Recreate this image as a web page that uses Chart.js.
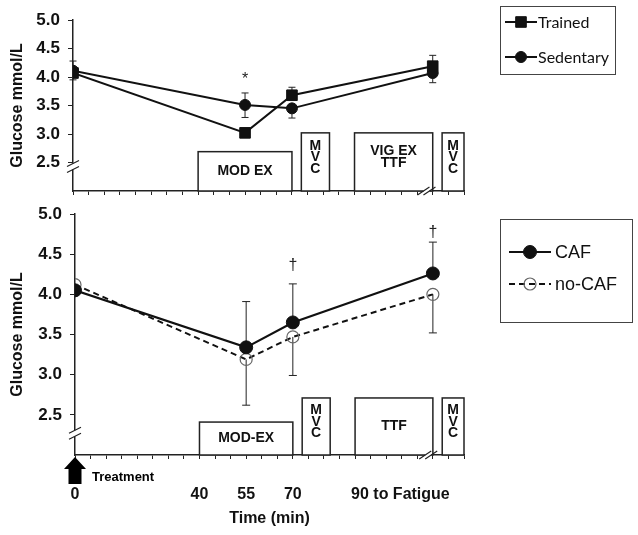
<!DOCTYPE html>
<html>
<head>
<meta charset="utf-8">
<script src="https://cdn.jsdelivr.net/npm/chart.js@4"></script>
<style>
  body { margin: 0; background: #fff; }
  #wrap { position: relative; width: 638px; height: 535px; }
  #topChart { position: absolute; left: 0; top: 0; }
  #bottomChart { position: absolute; left: 0; top: 200px; }
</style>
</head>
<body>
<div id="wrap">
  <canvas id="topChart" width="638" height="200"></canvas>
  <canvas id="bottomChart" width="638" height="335"></canvas>
</div>
<script>
// sample times (min)
const times = [0, 55, 70, 115];

// top panel: trained vs sedentary
const trainedGlucose = [4.07, 3.02, 3.68, 4.19];
const sedentaryGlucose = [4.11, 3.51, 3.45, 4.07];
const trainedHigh = [null, null, 3.82, 4.38];
const trainedLow = [3.95, null, null, null];
const sedentaryHigh = [4.28, 3.72, null, null];
const sedentaryLow = [null, 3.29, 3.28, 3.90];

// bottom panel: caffeine vs no caffeine
const cafGlucose = [4.05, 3.34, 3.65, 4.26];
const noCafGlucose = [4.12, 3.19, 3.47, 4.00];
const cafHigh = [null, 3.91, 4.13, 4.65];
const noCafLow = [null, 2.62, 2.99, 3.52];

const yTicks = [2.0, 2.5, 3.0, 3.5, 4.0, 4.5, 5.0];
const xTickValues = [0, 40, 55, 70, 90];
const xTickLabels = ['0', '40', '55', '70', '90 to Fatigue'];

// protocol phases
const phaseStart = [40, 73, 90, 118];
const phaseEnd = [70, 82, 115, 125];
const phaseNamesTop = ['MOD EX', 'MVC', 'VIG EX\nTTF', 'MVC'];
const phaseNamesBottom = ['MOD-EX', 'MVC', 'TTF', 'MVC'];

// significance marks
const topSigTimes = [55];
const topSigLevels = [3.96];
const topSigText = ['*'];
const bottomSigTimes = [70, 115];
const bottomSigLevels = [4.36, 4.77];
const bottomSigText = ['\u2020', '\u2020'];

const axisColor = '#222';
const boldFont = '"Liberation Sans", Arial, sans-serif';

const pts = vals => times.map((t, i) => ({ x: t, y: vals[i] }));

function drawMarker(ctx, style, x, y, r, fill, stroke, bw) {
  ctx.save();
  ctx.fillStyle = fill;
  ctx.strokeStyle = stroke;
  ctx.lineWidth = bw;
  ctx.setLineDash([]);
  ctx.beginPath();
  if (style === 'rect') {
    const s = r * Math.SQRT1_2;
    ctx.rect(x - s, y - s, 2 * s, 2 * s);
  } else {
    ctx.arc(x, y, r, 0, Math.PI * 2);
  }
  ctx.fill();
  ctx.stroke();
  ctx.restore();
}

const panelPlugin = {
  id: 'panel',
  beforeDatasetsDraw(chart, args, opts) {
    const ctx = chart.ctx, xs = chart.scales.x, ys = chart.scales.y;
    ctx.save();
    ctx.strokeStyle = '#222';
    ctx.lineWidth = 1;
    (opts.errorBars || []).forEach(set => {
      const vals = chart.data.datasets[set.dataset].data;
      [set.high, set.low].forEach(ends => {
        if (!ends) return;
        ends.forEach((e, i) => {
          if (e == null) return;
          const px = xs.getPixelForValue(vals[i].x);
          const y0 = ys.getPixelForValue(vals[i].y);
          const y1 = ys.getPixelForValue(e);
          ctx.beginPath();
          ctx.moveTo(px, y0); ctx.lineTo(px, y1);
          ctx.moveTo(px - opts.cap, y1); ctx.lineTo(px + opts.cap, y1);
          ctx.stroke();
        });
      });
    });
    ctx.restore();
  },
  afterDraw(chart, args, opts) {
    const ctx = chart.ctx, xs = chart.scales.x, ys = chart.scales.y;
    const area = chart.chartArea;
    ctx.save();

    // axis breaks
    const brk = (x, y, horiz) => {
      ctx.fillStyle = '#fff';
      if (horiz) ctx.fillRect(x - 3, y - 2, 6, 4); else ctx.fillRect(x - 2, y - 3, 4, 6);
      ctx.strokeStyle = axisColor;
      ctx.lineWidth = 1.2;
      ctx.beginPath();
      for (const d of [-3, 3]) {
        if (horiz) { ctx.moveTo(x + d - 6, y + 4); ctx.lineTo(x + d + 6, y - 4); }
        else { ctx.moveTo(x - 6, y + d + 3); ctx.lineTo(x + 6, y + d - 3); }
      }
      ctx.stroke();
    };
    brk(area.left, ys.getPixelForValue(opts.yBreak), false);

    // phase boxes
    const names = opts.phaseNames;
    phaseStart.forEach((s, i) => {
      const x0 = xs.getPixelForValue(s), x1 = xs.getPixelForValue(phaseEnd[i]);
      const yTop = ys.getPixelForValue(opts.phaseTops[i]);
      const yBot = area.bottom;
      ctx.fillStyle = '#fff';
      ctx.fillRect(x0, yTop, x1 - x0, yBot - yTop);
      ctx.strokeStyle = axisColor;
      ctx.lineWidth = 1.5;
      ctx.strokeRect(x0, yTop, x1 - x0, yBot - yTop);
      ctx.fillStyle = '#111';
      ctx.font = 'bold 14px ' + boldFont;
      ctx.textAlign = 'center';
      ctx.textBaseline = 'middle';
      const cx = (x0 + x1) / 2, cy = (yTop + yBot) / 2;
      if (names[i] === 'MVC') {
        const letters = names[i].split('');
        letters.forEach((l, k) => ctx.fillText(l, cx, cy - 4.5 + (k - 1) * 11.5));
      } else {
        const lines = names[i].split('\n');
        const shift = lines.length > 1 ? -5 : 0;
        lines.forEach((l, k) => ctx.fillText(l, cx, cy + (k - (lines.length - 1) / 2) * 12 + shift));
      }
    });
    brk(xs.getPixelForValue(opts.xBreak), area.bottom, true);

    // significance marks
    ctx.fillStyle = '#222';
    ctx.font = '16px ' + boldFont;
    ctx.textAlign = 'center';
    ctx.textBaseline = 'middle';
    opts.sigTimes.forEach((t, i) => {
      ctx.fillText(opts.sigText[i], xs.getPixelForValue(t), ys.getPixelForValue(opts.sigLevels[i]));
    });

    // legend box
    const lg = opts.legend;
    ctx.strokeStyle = '#444';
    ctx.lineWidth = 1;
    ctx.strokeRect(lg.x + 0.5, lg.y + 0.5, lg.w, lg.h);
    chart.data.datasets.forEach((ds, i) => {
      const ry = lg.y + lg.rows[i];
      ctx.strokeStyle = ds.borderColor;
      ctx.lineWidth = ds.borderWidth;
      ctx.setLineDash(ds.borderDash || []);
      ctx.beginPath();
      ctx.moveTo(lg.x + lg.lineStart, ry);
      ctx.lineTo(lg.x + lg.lineStart + lg.lineLen, ry);
      ctx.stroke();
      ctx.setLineDash([]);
      drawMarker(ctx, ds.pointStyle, lg.x + lg.lineStart + lg.lineLen / 2, ry, ds.pointRadius,
        ds.pointBackgroundColor, ds.pointBorderColor, ds.pointBorderWidth);
      ctx.fillStyle = '#111';
      ctx.font = lg.font;
      ctx.textAlign = 'left';
      ctx.textBaseline = 'middle';
      ctx.fillText(ds.label, lg.x + lg.textStart, ry + 1);
    });

    // x tick labels and treatment arrow (bottom panel only)
    if (opts.xLabels) {
      ctx.fillStyle = '#111';
      ctx.font = 'bold 16px ' + boldFont;
      ctx.textBaseline = 'middle';
      xTickValues.forEach((v, i) => {
        ctx.textAlign = opts.xLabels.align[i];
        const px = xs.getPixelForValue(v) + (opts.xLabels.align[i] === 'left' ? -4 : 0);
        ctx.fillText(xTickLabels[i], px, area.bottom + opts.xLabels.dy);
      });
      const ax = xs.getPixelForValue(0), ay = area.bottom + 2;
      ctx.fillStyle = '#000';
      ctx.beginPath();
      ctx.moveTo(ax, ay);
      ctx.lineTo(ax + 11, ay + 12);
      ctx.lineTo(ax + 6.5, ay + 12);
      ctx.lineTo(ax + 6.5, ay + 27);
      ctx.lineTo(ax - 6.5, ay + 27);
      ctx.lineTo(ax - 6.5, ay + 12);
      ctx.lineTo(ax - 11, ay + 12);
      ctx.closePath();
      ctx.fill();
      ctx.font = 'bold 13px ' + boldFont;
      ctx.textAlign = 'left';
      ctx.fillText('Treatment', ax + 17, area.bottom + 22);
    }
    ctx.restore();
  }
};

// scales keep exact sizes, no extra label padding
const noPad = s => { s.paddingTop = 0; s.paddingBottom = 0; s.paddingLeft = 0; s.paddingRight = 0; };

function makeOptions(cfg) {
  return {
    responsive: false,
    animation: false,
    layout: { autoPadding: false, padding: { top: cfg.padTop, right: 174, bottom: 0, left: 0 } },
    plugins: {
      legend: { display: false },
      tooltip: { enabled: false },
      panel: cfg.panel
    },
    scales: {
      x: {
        type: 'linear', min: 0, max: 125,
        afterBuildTicks: s => { const t = []; for (let v = 0; v <= 125; v += 5) t.push({ value: v }); s.ticks = t; },
        afterFit: s => { s.height = cfg.xHeight; noPad(s); },
        ticks: { display: false },
        grid: { drawOnChartArea: false, drawTicks: true, tickLength: 4, color: axisColor, lineWidth: 1 },
        border: { color: axisColor, width: 1.5 },
        title: cfg.xTitle
      },
      y: {
        min: 2, max: 5,
        afterBuildTicks: s => { s.ticks = yTicks.map(v => ({ value: v })); },
        afterFit: s => { s.width = cfg.yWidth; noPad(s); },
        ticks: {
          callback: v => (v === 2 ? null : v.toFixed(1)),
          font: { family: boldFont, size: 17, weight: 'bold' },
          color: '#111', padding: 8
        },
        grid: { drawOnChartArea: false, tickLength: 5, color: axisColor },
        border: { color: axisColor, width: 1.5 },
        title: {
          display: true, text: 'Glucose mmol/L', color: '#111',
          font: { family: boldFont, size: 16, weight: 'bold' },
          padding: { top: 8, bottom: 0 }
        }
      }
    }
  };
}

new Chart(document.getElementById('topChart'), {
  type: 'line',
  data: {
    datasets: [
      {
        label: 'Trained', data: pts(trainedGlucose),
        borderColor: '#111', borderWidth: 2, tension: 0,
        pointStyle: 'rect', pointRadius: 7.5,
        pointBackgroundColor: '#111', pointBorderColor: '#111', pointBorderWidth: 1
      },
      {
        label: 'Sedentary', data: pts(sedentaryGlucose),
        borderColor: '#111', borderWidth: 2, tension: 0,
        pointStyle: 'circle', pointRadius: 5.5,
        pointBackgroundColor: '#111', pointBorderColor: '#111', pointBorderWidth: 1
      }
    ]
  },
  options: makeOptions({
    padTop: 20, xHeight: 9, yWidth: 73,
    xTitle: { display: false },
    panel: {
      cap: 3.5,
      errorBars: [
        { dataset: 0, high: trainedHigh, low: trainedLow },
        { dataset: 1, high: sedentaryHigh, low: sedentaryLow }
      ],
      yBreak: 2.43, xBreak: 113,
      phaseNames: phaseNamesTop, phaseTops: [2.69, 3.02, 3.02, 3.02],
      sigTimes: topSigTimes, sigLevels: topSigLevels, sigText: topSigText,
      legend: { x: 500, y: 6, w: 115, h: 68, rows: [16, 51], lineStart: 5, lineLen: 32, textStart: 38, font: '16px Lato, sans-serif' }
    }
  }),
  plugins: [panelPlugin]
});

new Chart(document.getElementById('bottomChart'), {
  type: 'line',
  data: {
    datasets: [
      {
        label: 'CAF', data: pts(cafGlucose),
        borderColor: '#111', borderWidth: 2.2, tension: 0,
        pointStyle: 'circle', pointRadius: 6.5,
        pointBackgroundColor: '#111', pointBorderColor: '#111', pointBorderWidth: 1
      },
      {
        label: 'no-CAF', data: pts(noCafGlucose),
        borderColor: '#111', borderWidth: 2, borderDash: [6, 4], tension: 0,
        pointStyle: 'circle', pointRadius: 6,
        pointBackgroundColor: 'rgba(255,255,255,0)', pointBorderColor: '#666', pointBorderWidth: 1.2
      }
    ]
  },
  options: makeOptions({
    padTop: 14, xHeight: 80, yWidth: 75,
    xTitle: {
      display: true, text: 'Time (min)', color: '#111',
      font: { family: boldFont, size: 16, weight: 'bold' },
      padding: { top: 0, bottom: 7 }
    },
    panel: {
      cap: 4,
      errorBars: [
        { dataset: 0, high: cafHigh, low: null },
        { dataset: 1, high: null, low: noCafLow }
      ],
      yBreak: 2.27, xBreak: 113.5,
      phaseNames: phaseNamesBottom, phaseTops: [2.41, 2.71, 2.71, 2.71],
      sigTimes: bottomSigTimes, sigLevels: bottomSigLevels, sigText: bottomSigText,
      xLabels: { dy: 40, align: ['center', 'center', 'center', 'center', 'left'] },
      legend: { x: 500, y: 19, w: 132, h: 103, rows: [33, 65], lineStart: 9, lineLen: 42, textStart: 55, font: '18px "Liberation Sans", Arial, sans-serif' }
    }
  }),
  plugins: [panelPlugin]
});
</script>
</body>
</html>
